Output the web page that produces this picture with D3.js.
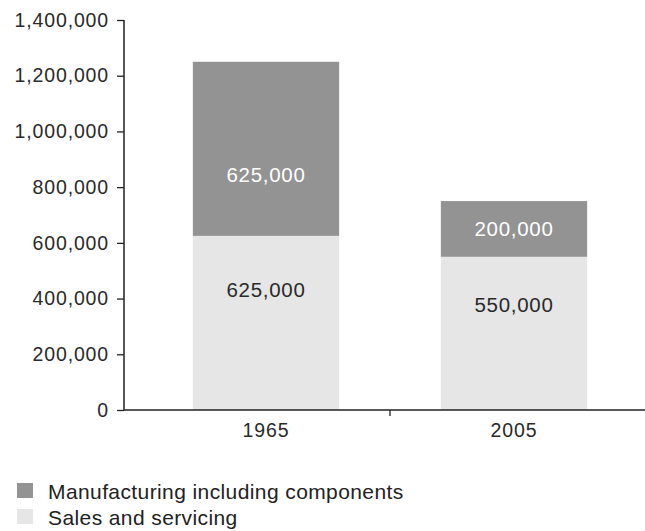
<!DOCTYPE html>
<html>
<head>
<meta charset="utf-8">
<script src="https://cdn.jsdelivr.net/npm/d3@7"></script>
<style>
  html, body { margin: 0; padding: 0; background: #ffffff; }
  svg text { font-family: "Liberation Sans", Arial, Helvetica, sans-serif; }
</style>
</head>
<body>
<div id="chart"></div>
<script>
// Employment by sector, 1965 vs 2005
const years = ["1965", "2005"];
const salesServicing = [625000, 550000];
const manufacturing = [625000, 200000];
const seriesNames = ["Manufacturing including components", "Sales and servicing"];
const yTicks = [0, 200000, 400000, 600000, 800000, 1000000, 1200000, 1400000];

const W = 645, H = 531;
const colors = { manufacturing: "#939393", sales: "#e6e6e6" };

const svg = d3.select("#chart").append("svg")
  .attr("width", W).attr("height", H);

const y = d3.scaleLinear().domain([0, 1400000]).range([410, 20]);
const x = d3.scaleBand().domain(years).range([142, 638]).padding(0);
const barW = x.bandwidth() * 0.59;
const fmt = d3.format(",");

// stacked layout
const rows = years.map((yr, i) => ({ year: yr, sales: salesServicing[i], manufacturing: manufacturing[i] }));
const stack = d3.stack().keys(["sales", "manufacturing"])(rows);

const g = svg.append("g");

stack.forEach(layer => {
  g.selectAll(null).data(layer).enter().append("rect")
    .attr("x", d => x(d.data.year) + (x.bandwidth() - barW) / 2)
    .attr("y", d => y(d[1]))
    .attr("width", barW)
    .attr("height", d => y(d[0]) - y(d[1]))
    .attr("fill", colors[layer.key]);
});

// value labels inside segments
stack.forEach(layer => {
  g.selectAll(null).data(layer).enter().append("text")
    .attr("x", d => x(d.data.year) + x.bandwidth() / 2)
    .attr("y", d => {
      const v = d[1] - d[0];
      const h = y(d[0]) - y(d[1]);
      if (layer.key === "sales") return y(d[0] + v * 0.69);
      return h > 100 ? y(d[0] + v * 0.35) : (y(d[0]) + y(d[1])) / 2;
    })
    .attr("dy", "0.36em")
    .attr("text-anchor", "middle")
    .attr("font-size", 20.5)
    .attr("letter-spacing", 0.7)
    .attr("fill", layer.key === "sales" ? "#2a2a2a" : "#ffffff")
    .text(d => fmt(d[1] - d[0]));
});

// y axis
const yAxis = d3.axisLeft(y).tickValues(yTicks).tickFormat(fmt).tickSize(7).tickPadding(8);
const ya = svg.append("g").attr("transform", "translate(124,0)").call(yAxis);
ya.select(".domain").attr("stroke", "#222").attr("stroke-width", 1.5).attr("d", "M0,20V410");
ya.selectAll(".tick line").attr("stroke", "#222").attr("stroke-width", 1.3);
ya.selectAll(".tick text")
  .attr("font-size", 19.5).attr("letter-spacing", 0.85).attr("fill", "#2a2a2a");

// x axis: baseline with a divider tick between the two periods
svg.append("line")
  .attr("x1", 124).attr("x2", W).attr("y1", 410).attr("y2", 410)
  .attr("stroke", "#222").attr("stroke-width", 1.5);
svg.append("line")
  .attr("x1", x("2005")).attr("x2", x("2005")).attr("y1", 410).attr("y2", 416)
  .attr("stroke", "#222").attr("stroke-width", 1.3);
svg.selectAll(null).data(years).enter().append("text")
  .attr("x", d => x(d) + x.bandwidth() / 2)
  .attr("y", 437)
  .attr("text-anchor", "middle")
  .attr("font-size", 19.5).attr("letter-spacing", 0.85).attr("fill", "#2a2a2a")
  .text(d => d);

// legend
const legend = svg.append("g");
const legendColors = [colors.manufacturing, colors.sales];
seriesNames.forEach((name, i) => {
  const ly = 491 + i * 26;
  legend.append("rect")
    .attr("x", 17).attr("y", ly - 8).attr("width", 16).attr("height", 15)
    .attr("fill", legendColors[i]);
  legend.append("text")
    .attr("x", 48).attr("y", ly).attr("dy", "0.36em")
    .attr("font-size", 21).attr("letter-spacing", 0.4).attr("fill", "#222")
    .text(name);
});
</script>
</body>
</html>
